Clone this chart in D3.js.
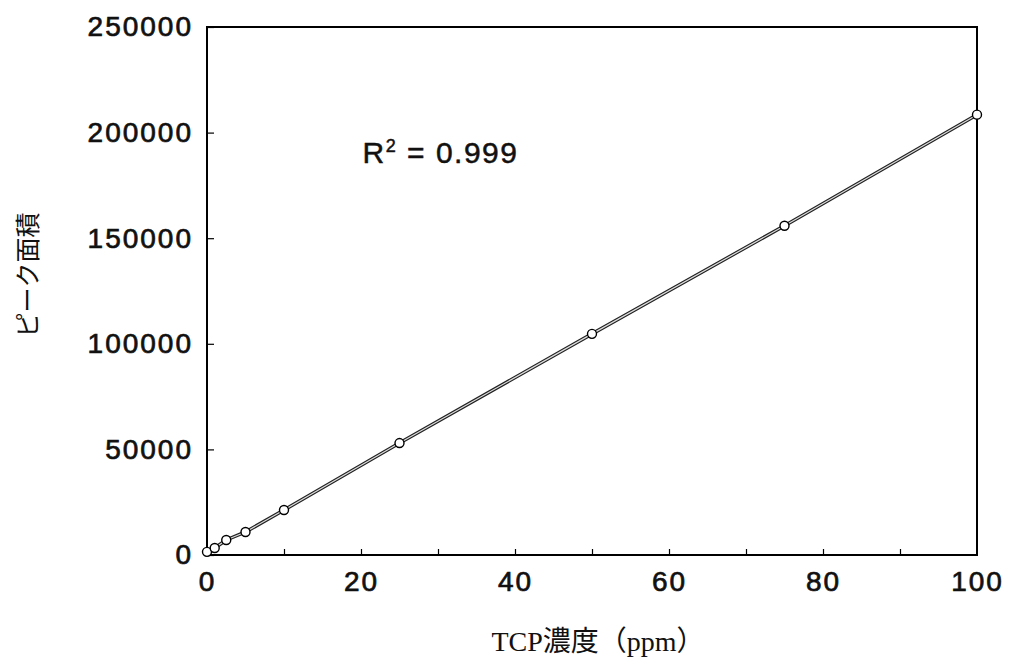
<!DOCTYPE html>
<html>
<head>
<meta charset="utf-8">
<script src="https://cdn.jsdelivr.net/npm/d3@7"></script>
<style>
  body { margin: 0; background: #fff; }
  .tick text { font-family: "Liberation Sans", Arial, sans-serif; fill: #111; stroke: #111; stroke-width: 0.7px; }
</style>
</head>
<body>
<div id="chart"></div>
<script>
// Data
const concentration = [0, 1, 2.5, 5, 10, 25, 50, 75, 100];
const peakArea = [1500, 3300, 7100, 10900, 21300, 53000, 104700, 155900, 208500];
const xLabelTicks = [0, 20, 40, 60, 80, 100];
const xMinorTicks = [10, 20, 30, 40, 50, 60, 70, 80, 90];
const yTicks = [0, 50000, 100000, 150000, 200000, 250000];
const rSquared = "0.999";

const width = 1020, height = 666;
const margin = { top: 27, right: 43, bottom: 111, left: 207 };
const w = width - margin.left - margin.right;
const h = height - margin.top - margin.bottom;

const svg = d3.select("#chart")
    .append("svg")
    .attr("width", width)
    .attr("height", height);

const g = svg.append("g")
    .attr("transform", `translate(${margin.left},${margin.top})`);

const x = d3.scaleLinear().domain([0, 100]).range([0, w]);
const y = d3.scaleLinear().domain([0, 250000]).range([h, 0]);

// frame
g.append("rect")
    .attr("width", w)
    .attr("height", h)
    .attr("fill", "none")
    .attr("stroke", "#000")
    .attr("stroke-width", 2);

// y axis
const yAxis = g.append("g")
    .call(d3.axisLeft(y).tickValues(yTicks).tickSize(-7).tickPadding(14).tickFormat(d3.format("d")));
yAxis.select(".domain").remove();
yAxis.selectAll(".tick line").attr("stroke", "#000").attr("stroke-width", 1.2);
yAxis.selectAll(".tick text").attr("font-size", 28).attr("letter-spacing", 2);

// x axis: minor ticks
const xTickAxis = g.append("g")
    .attr("transform", `translate(0,${h})`)
    .call(d3.axisBottom(x).tickValues(xMinorTicks).tickSize(-6).tickFormat(""));
xTickAxis.select(".domain").remove();
xTickAxis.selectAll(".tick line").attr("stroke", "#000").attr("stroke-width", 1.2);

// x axis: labels
const xLabelAxis = g.append("g")
    .attr("transform", `translate(0,${h})`)
    .call(d3.axisBottom(x).tickValues(xLabelTicks).tickSize(0).tickPadding(16));
xLabelAxis.select(".domain").remove();
xLabelAxis.selectAll(".tick text").attr("font-size", 28).attr("letter-spacing", 2);

// data line (outlined look)
const line = d3.line()
    .x((d, i) => x(concentration[i]))
    .y(d => y(d));

g.append("path")
    .datum(peakArea)
    .attr("fill", "none")
    .attr("stroke", "#222")
    .attr("stroke-width", 3.5)
    .attr("d", line);

g.append("path")
    .datum(peakArea)
    .attr("fill", "none")
    .attr("stroke", "#ddd")
    .attr("stroke-width", 1.2)
    .attr("d", line);

// points
g.selectAll("circle.pt")
    .data(peakArea)
    .enter().append("circle")
    .attr("class", "pt")
    .attr("cx", (d, i) => x(concentration[i]))
    .attr("cy", d => y(d))
    .attr("r", 4.5)
    .attr("fill", "#fff")
    .attr("stroke", "#000")
    .attr("stroke-width", 1.4);

// R squared annotation
const rText = g.append("text")
    .attr("x", x(20.2))
    .attr("y", y(185500))
    .attr("font-family", "Liberation Sans, Arial, sans-serif")
    .attr("font-size", 30)
    .attr("fill", "#111")
    .attr("stroke", "#111")
    .attr("stroke-width", 0.5)
    .attr("letter-spacing", 1.5);
rText.append("tspan").text("R");
rText.append("tspan").attr("font-size", 18).attr("dy", -11).text("2");
rText.append("tspan").attr("dy", 11).text(` = ${rSquared}`);

// axis titles
svg.append("text")
    .attr("transform", `translate(37,${275}) rotate(-90)`)
    .attr("text-anchor", "middle")
    .attr("font-family", "Noto Sans CJK JP, sans-serif")
    .attr("font-size", 25)
    .attr("fill", "#111")
    .text("ピーク面積");

svg.append("text")
    .attr("x", 598)
    .attr("y", 651)
    .attr("text-anchor", "middle")
    .attr("font-family", "Liberation Serif, Noto Sans CJK JP, serif")
    .attr("font-size", 28)
    .attr("fill", "#111")
    .text("TCP濃度（ppm）");
</script>
</body>
</html>
